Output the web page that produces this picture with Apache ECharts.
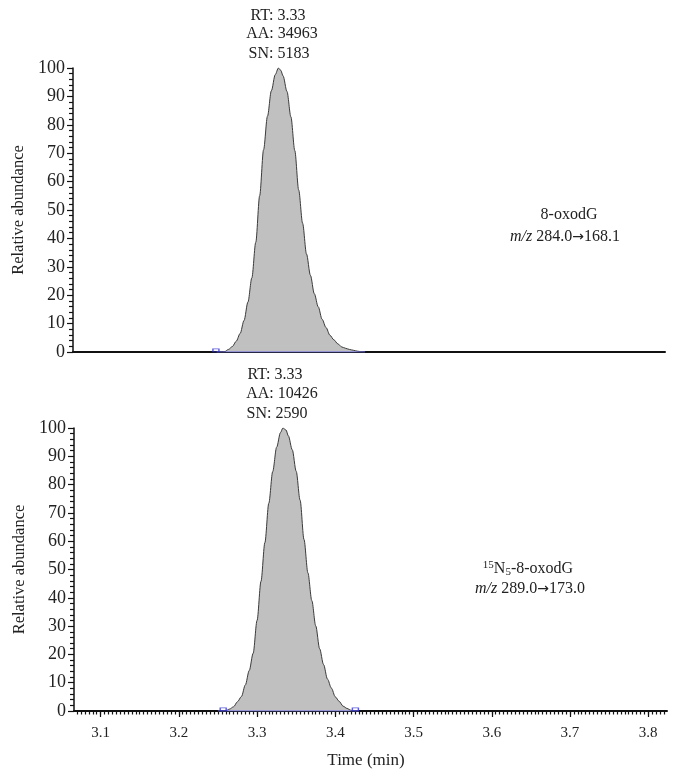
<!DOCTYPE html>
<html>
<head>
<meta charset="utf-8">
<script src="https://cdn.jsdelivr.net/npm/echarts@6/dist/echarts.min.js"></script>
<style>
html,body{margin:0;padding:0;background:#fff;}
#chart{width:678px;height:775px;}
</style>
</head>
<body>
<div id="chart"></div>
<script>
// ---- data ----
const xRange = [3.066, 3.824];
const xTickLabels = [3.1, 3.2, 3.3, 3.4, 3.5, 3.6, 3.7, 3.8];
const yTickLabels = [0, 10, 20, 30, 40, 50, 60, 70, 80, 90, 100];

const time1 = [3.250,3.255,3.260,3.265,3.270,3.275,3.280,3.285,3.290,3.295,3.300,3.305,3.310,3.315,3.320,3.325,3.329,3.332,3.335,3.340,3.345,3.350,3.355,3.360,3.365,3.370,3.375,3.380,3.385,3.390,3.395,3.400,3.405,3.410,3.415,3.420,3.425,3.430,3.435,3.440];
const abund1 = [0,0,0.1,0.9,1.9,3.8,6.5,11.1,17.6,26.1,38.6,55.0,71.2,83.0,92.0,97.7,100,99.2,97.2,91.7,82.8,70.9,57.0,45.3,34.5,27.0,20.5,15.9,11.5,8.6,5.9,4.3,2.9,1.8,1.3,0.9,0.6,0.3,0.1,0];

const time2 = [3.250,3.255,3.260,3.265,3.270,3.275,3.280,3.285,3.290,3.295,3.300,3.305,3.310,3.315,3.320,3.325,3.330,3.333,3.337,3.340,3.345,3.350,3.355,3.360,3.365,3.370,3.375,3.380,3.385,3.390,3.395,3.400,3.405,3.410,3.415,3.420,3.425,3.430];
const abund2 = [0,0,0.1,0.7,1.5,3.3,5.1,9.2,14.3,20.4,32.0,45.8,59.5,73.4,84.6,93.2,98.4,100,99.3,97.2,92.3,84.7,74.5,60.6,48.8,39.0,30.1,22.0,16.4,11.3,8.1,5.0,3.4,1.7,0.9,0.25,0.05,0];

const markers1 = [[3.249, 0.6]];
const markers2 = [[3.2567, 0.6], [3.4257, 0.6]];

const peakText1 = ['RT: 3.33', 'AA: 34963', 'SN: 5183'];
const peakText2 = ['RT: 3.33', 'AA: 10426', 'SN: 2590'];
const compound1 = ['8-oxodG', '284.0', '168.1'];
const compound2 = ['-8-oxodG', '289.0', '173.0'];

// ---- helpers ----
const SERIF = '"Liberation Serif", "DejaVu Serif", serif';
const minorX = [];
for (let k = Math.ceil(xRange[0] / 0.005); k * 0.005 <= xRange[1] + 1e-9; k++) minorX.push(+(k * 0.005).toFixed(3));

function pairs(t, v) { return t.map((x, i) => [x, v[i]]); }

function yAxis(gi) {
  return {
    type: 'value', gridIndex: gi, min: 0, max: 100, interval: 10,
    name: 'Relative abundance', nameLocation: 'middle', nameGap: 46,
    nameTextStyle: { fontFamily: SERIF, fontSize: 16.5, color: '#222' },
    axisLine: { show: true, lineStyle: { color: '#111', width: 1.5 } },
    axisTick: { show: true, length: 6, lineStyle: { color: '#111', width: 1.2 } },
    minorTick: { show: true, splitNumber: 5, length: 4, lineStyle: { color: '#111', width: 1.2 } },
    axisLabel: { fontFamily: SERIF, fontSize: 18, color: '#222', margin: 8 },
    splitLine: { show: false }
  };
}

function peakSeries(xi, yi, data) {
  return {
    type: 'line', xAxisIndex: xi, yAxisIndex: yi, data: data,
    smooth: 0.3, smoothMonotone: 'x', symbol: 'none', z: 3,
    lineStyle: { color: '#3a3a3a', width: 1 },
    areaStyle: { color: '#c0c0c0', opacity: 1, origin: 0 }
  };
}
function baseSeries(xi, yi, t) {
  return {
    type: 'line', xAxisIndex: xi, yAxisIndex: yi,
    data: [[t[0], 0], [t[t.length - 1], 0]], symbol: 'none', z: 4,
    lineStyle: { color: '#6a6ae8', width: 1 }
  };
}
function markerSeries(xi, yi, data) {
  return {
    type: 'scatter', xAxisIndex: xi, yAxisIndex: yi, data: data,
    symbol: 'rect', symbolSize: [6, 3], z: 5,
    itemStyle: { color: 'rgba(0,0,0,0)', borderColor: '#3030d0', borderWidth: 1 }
  };
}

function textEl(str, x, y) {
  return {
    type: 'text', x: x, y: y,
    style: { text: str, fontFamily: SERIF, fontSize: 16, fill: '#222', align: 'center', verticalAlign: 'middle' }
  };
}
const mzRich = {
  i: { fontFamily: SERIF, fontSize: 16, fontStyle: 'italic', fill: '#222' },
  a: { fontFamily: '"DejaVu Sans", sans-serif', fontSize: 14, fill: '#222' }
};
function mzEl(from, to, x, y) {
  return {
    type: 'text', x: x, y: y,
    style: {
      text: '{i|m/z} ' + from + '{a|\u2192}' + to,
      fontFamily: SERIF, fontSize: 16, fill: '#222', align: 'center', verticalAlign: 'middle',
      rich: mzRich
    }
  };
}

const chart = echarts.init(document.getElementById('chart'), null, { renderer: 'canvas' });

const option = {
  backgroundColor: '#fff',
  animation: false,
  grid: [
    { left: 73, right: 13, top: 68, height: 284 },
    { left: 74, right: 11, top: 428, height: 283 }
  ],
  xAxis: [
    { // top panel
      type: 'value', gridIndex: 0, min: xRange[0], max: xRange[1],
      axisLine: { show: true, onZero: false, lineStyle: { color: '#111', width: 2 } },
      axisTick: { show: false }, axisLabel: { show: false }, splitLine: { show: false }
    },
    { // bottom panel major
      type: 'value', gridIndex: 1, min: xRange[0], max: xRange[1],
      name: 'Time (min)', nameLocation: 'middle', nameGap: 41,
      nameTextStyle: { fontFamily: SERIF, fontSize: 17, color: '#222', padding: [0, 9, 0, 0] },
      axisLine: { show: true, onZero: false, lineStyle: { color: '#111', width: 2 } },
      axisTick: { show: true, length: 6, customValues: xTickLabels, lineStyle: { color: '#111', width: 1.2 } },
      axisLabel: { fontFamily: SERIF, fontSize: 15, color: '#222', margin: 15, customValues: xTickLabels,
                   formatter: v => v.toFixed(1) },
      splitLine: { show: false }
    },
    { // bottom panel minor ticks
      type: 'value', gridIndex: 1, min: xRange[0], max: xRange[1], position: 'bottom',
      axisLine: { show: false, onZero: false },
      axisTick: { show: true, length: 3.5, customValues: minorX, lineStyle: { color: '#111', width: 1.2 } },
      axisLabel: { show: false }, splitLine: { show: false }
    }
  ],
  yAxis: [yAxis(0), yAxis(1)],
  series: [
    peakSeries(0, 0, pairs(time1, abund1)),
    baseSeries(0, 0, time1),
    markerSeries(0, 0, markers1),
    peakSeries(1, 1, pairs(time2, abund2)),
    baseSeries(1, 1, time2),
    markerSeries(1, 1, markers2)
  ],
  graphic: [
    textEl(peakText1[0], 278, 16),
    textEl(peakText1[1], 282, 34),
    textEl(peakText1[2], 279, 54),
    textEl(peakText2[0], 275, 375),
    textEl(peakText2[1], 282, 394),
    textEl(peakText2[2], 277, 414),
    textEl(compound1[0], 569, 215),
    mzEl(compound1[1], compound1[2], 565, 237),
    {
      type: 'text', x: 528, y: 569,
      style: {
        text: '{sup|15}N{sub|5}' + compound2[0],
        fontFamily: SERIF, fontSize: 16, fill: '#222', align: 'center', verticalAlign: 'middle',
        rich: {
          sup: { fontFamily: SERIF, fontSize: 11, fill: '#222', padding: [0, 0, 7, 0] },
          sub: { fontFamily: SERIF, fontSize: 11, fill: '#222', padding: [7, 0, 0, 0] }
        }
      }
    },
    mzEl(compound2[1], compound2[2], 530, 589)
  ]
};
chart.setOption(option);
</script>
</body>
</html>
